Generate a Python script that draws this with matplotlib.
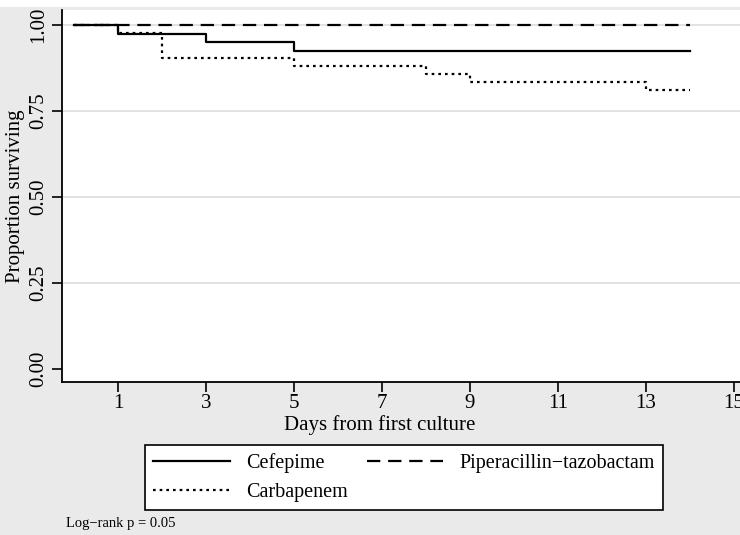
import matplotlib
matplotlib.use("Agg")
import matplotlib.pyplot as plt
from matplotlib.patches import Rectangle

# Kaplan-Meier survival data (days, proportion surviving)
cef_days = [0, 1, 3, 5, 14]
cef_surv = [1.0, 0.975, 0.95, 0.925, 0.925]
pip_days = [0, 14]
pip_surv = [1.0, 1.0]
carb_days = [0, 1, 2, 5, 8, 9, 13, 14]
carb_surv = [1.0, 0.976, 0.905, 0.881, 0.857, 0.833, 0.810, 0.810]

xticks = [1, 3, 5, 7, 9, 11, 13, 15]
yticks = [0.0, 0.25, 0.5, 0.75, 1.0]
ytick_labels = ["0.00", "0.25", "0.50", "0.75", "1.00"]

plt.rcParams['font.family'] = ['Liberation Serif', 'DejaVu Serif']
bg = "#eaeaea"

fig = plt.figure(figsize=(7.4, 5.35), dpi=100)
fig.patch.set_facecolor(bg)
# thin white strip along the very top
fig.patches.append(Rectangle((0, 1 - 7 / 535), 1, 7 / 535, transform=fig.transFigure,
                             facecolor="white", edgecolor="none"))

ax = fig.add_axes([62 / 740, 153 / 535, 678 / 740, 372 / 535])
ax.set_facecolor("white")

for y in [0.25, 0.5, 0.75, 1.0]:
    ax.axhline(y, color="#dddddd", lw=1.2, zorder=0)

ax.plot(cef_days, cef_surv, drawstyle="steps-post", color="black", lw=1.6,
        label="Cefepime", zorder=3)
ax.plot(carb_days, carb_surv, drawstyle="steps-post", color="black", lw=1.6,
        linestyle=(0, (1.2, 1.8)), label="Carbapenem", zorder=3)
ax.plot(pip_days, pip_surv, drawstyle="steps-post", color="black", lw=1.6,
        linestyle=(0, (6, 3.5)), label="Piperacillin\u2212tazobactam", zorder=4)

ax.set_xlim(-0.273, 15.14)
ax.set_ylim(-0.038, 1.0436)
ax.set_xticks(xticks)
ax.set_yticks(yticks)
ax.set_yticklabels(ytick_labels, rotation=90, va="center")
ax.tick_params(axis="both", direction="out", length=7, width=1.2, color="black",
               labelsize=15)
ax.tick_params(axis="x", pad=2)
ax.tick_params(axis="y", pad=3)

for s in ["top", "right"]:
    ax.spines[s].set_visible(False)
for s in ["left", "bottom"]:
    ax.spines[s].set_linewidth(1.3)

ax.set_xlabel("Days from first culture", fontsize=15)
ax.xaxis.set_label_coords(0.469, -0.088)
ax.set_ylabel("Proportion surviving", fontsize=15)
ax.yaxis.set_label_coords(-0.054, 0.5)

h, l = ax.get_legend_handles_labels()
leg = fig.legend(h, l, loc="lower left", ncol=2, mode="expand",
                 bbox_to_anchor=(145 / 740, 25 / 535, 518 / 740, 64 / 535),
                 borderaxespad=0, fontsize=14.5, frameon=True, fancybox=False,
                 handlelength=3.8, borderpad=0.4, labelspacing=0.5,
                 handletextpad=0.8)
leg.get_frame().set_edgecolor("black")
leg.get_frame().set_linewidth(1.2)
leg.get_frame().set_facecolor("white")
leg.get_frame().set_alpha(1)

fig.text(66 / 740, 1 - 523 / 535, "Log\u2212rank p = 0.05", fontsize=10.5,
         va="center", ha="left")

fig.savefig("out.png", dpi=100, facecolor=bg)
